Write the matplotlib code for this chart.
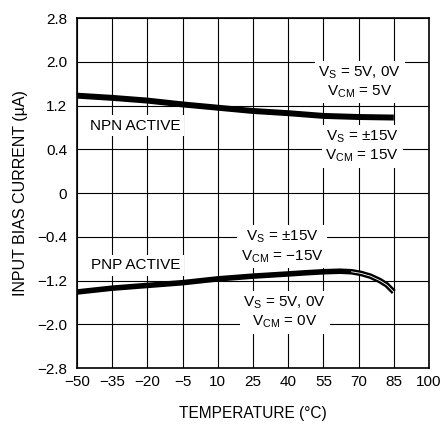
import numpy as np
import matplotlib
matplotlib.use("Agg")
import matplotlib.pyplot as plt

plt.rcParams['font.family'] = ['Liberation Sans Narrow', 'Liberation Sans', 'DejaVu Sans']
plt.rcParams['mathtext.fontset'] = 'custom'
plt.rcParams['mathtext.rm'] = 'Liberation Sans'
plt.rcParams['mathtext.it'] = 'Liberation Sans'
plt.rcParams['mathtext.sf'] = 'Liberation Sans'

# courbes (temperature en degC, courant en uA)
temp_npn = [-50, -35, -20, -5, 10, 25, 40, 55, 70, 85]
courant_npn = [1.38, 1.34, 1.29, 1.22, 1.16, 1.10, 1.06, 1.01, 0.99, 0.98]

temp_pnp = [-50, -35, -20, -5, 10, 25, 40, 47, 55, 62, 67, 71, 75, 79, 82, 85]
courant_pnp = [-1.41, -1.34, -1.29, -1.24, -1.17, -1.12, -1.08, -1.06, -1.04,
               -1.03, -1.04, -1.07, -1.12, -1.20, -1.28, -1.41]

xticks = [-50, -35, -20, -5, 10, 25, 40, 55, 70, 85, 100]
xlabels = ['\u221250', '\u221235', '\u221220', '\u22125', '10', '25', '40',
           '55', '70', '85', '100']
yticks = [2.8, 2.0, 1.2, 0.4, 0, -0.4, -1.2, -2.0, -2.8]
ylabels = ['2.8', '2.0', '1.2', '0.4', '0', '\u22120.4', '\u22121.2',
           '\u22122.0', '\u22122.8']


def aller(v):
    # echelle du graphique : 0.4 entre 0 et 0.4, puis 0.8 par division
    v = np.asarray(v, dtype=float)
    a = np.abs(v)
    return np.where(a <= 0.4, v / 0.4, np.sign(v) * (a + 0.4) / 0.8)


def retour(u):
    u = np.asarray(u, dtype=float)
    a = np.abs(u)
    return np.where(a <= 1, u * 0.4, np.sign(u) * (a * 0.8 - 0.4))


fig = plt.figure(figsize=(4.43, 4.25), dpi=100)
ax = fig.add_axes([0.1738, 0.1341, 0.7946, 0.8235])
ax.set_yscale('function', functions=(aller, retour))

ax.plot(temp_npn, courant_npn, color='black', lw=4.3, solid_capstyle='butt',
        solid_joinstyle='round', zorder=3)
ax.plot(temp_pnp, courant_pnp, color='black', lw=4.0, solid_capstyle='butt',
        solid_joinstyle='round', zorder=3)
# petit trait blanc dans la partie ou les deux courbes se separent
ax.plot(temp_pnp[10:], courant_pnp[10:], color='white', lw=0.6, zorder=4)

ax.set_xlim(-50, 100)
ax.set_ylim(-2.8, 2.8)
ax.set_xticks(xticks)
ax.set_xticklabels(xlabels)
ax.set_yticks(yticks)
ax.set_yticklabels(ylabels)
ax.minorticks_off()
ax.tick_params(length=0, labelsize=11)
ax.tick_params(axis='x', pad=5)
ax.tick_params(axis='y', pad=7)
ax.grid(True, color='black', lw=0.8)
for s in ax.spines.values():
    s.set_linewidth(1.2)

ax.set_xlabel('TEMPERATURE (\u00b0C)', fontsize=11.2, labelpad=12)
ax.set_ylabel('INPUT BIAS CURRENT (\u00b5A)', fontsize=11.5, labelpad=7)

boite = dict(facecolor='white', edgecolor='none', pad=2.5)
fs = 11
ax.text(-25, 0.83, 'NPN ACTIVE', fontsize=fs, ha='center', va='center', bbox=boite, zorder=5)
ax.text(-25, -0.92, 'PNP ACTIVE', fontsize=fs, ha='center', va='center', bbox=boite, zorder=5)
ax.text(70.5, 1.63, '$\\mathrm{V_S}$ = 5V, 0V\n$\\mathrm{V_{CM}}$ = 5V', fontsize=fs,
        ha='center', va='center', multialignment='center', bbox=boite, zorder=5, linespacing=1.25)
ax.text(71.5, 0.45, '$\\mathrm{V_S}$ = \u00b115V\n$\\mathrm{V_{CM}}$ = 15V', fontsize=fs,
        ha='center', va='center', multialignment='center', bbox=boite, zorder=5, linespacing=1.25)
ax.text(37.5, -0.58, '$\\mathrm{V_S}$ = \u00b115V\n$\\mathrm{V_{CM}}$ = \u221215V', fontsize=fs,
        ha='center', va='center', multialignment='center', bbox=boite, zorder=5, linespacing=1.25)
ax.text(38.5, -1.78, '$\\mathrm{V_S}$ = 5V, 0V\n$\\mathrm{V_{CM}}$ = 0V', fontsize=fs,
        ha='center', va='center', multialignment='center', bbox=boite, zorder=5, linespacing=1.25)

fig.savefig('out.png', dpi=100)
